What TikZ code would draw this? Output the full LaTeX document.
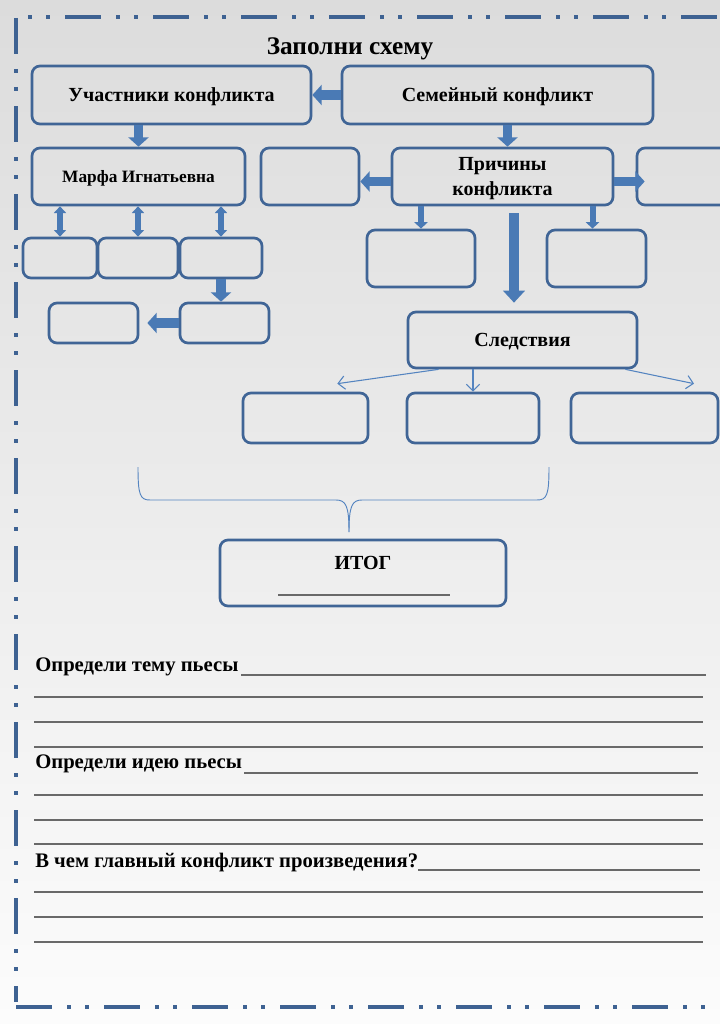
\documentclass[tikz,border=0pt]{standalone}
\usepackage{fontspec}
\setmainfont{Liberation Serif}
\usetikzlibrary{arrows.meta,calc}
\definecolor{frameblue}{RGB}{62,98,146}
\definecolor{boxblue}{RGB}{64,101,150}
\definecolor{arrowblue}{RGB}{74,122,181}
\definecolor{thinblue}{RGB}{84,132,192}
\definecolor{linegray}{RGB}{105,105,105}
\definecolor{bgtop}{RGB}{220,220,220}
\definecolor{bgbot}{RGB}{252,252,252}
\tikzset{
  frame/.style={draw=frameblue, line width=3pt,
    dash pattern=on 27pt off 11.25pt on 3pt off 10.5pt on 3pt off 11.25pt},
  box/.style={draw=boxblue, line width=2pt, rounded corners=6pt, align=center,
    inner sep=0pt, text depth=0pt, font=\bfseries\fontsize{15}{18.75}\selectfont},
  blockarrow/.style={draw=arrowblue, line width=7pt, -{Triangle[length=7pt,width=15pt]}},
  bigarrow/.style={draw=arrowblue, line width=7.5pt, -{Triangle[length=9pt,width=16pt]}},
  slimarrow/.style={draw=arrowblue, line width=4.5pt, -{Triangle[length=5pt,width=10pt]}},
  twinarrow/.style={draw=arrowblue, line width=4.5pt, {Triangle[length=5pt,width=9pt]}-{Triangle[length=5pt,width=9pt]}},
  thinarrow/.style={draw=thinblue, line width=0.8pt, -{Straight Barb[length=5pt,width=10pt]}},
  writeline/.style={draw=linegray, line width=1.1pt},
  qtxt/.style={anchor=west, inner sep=0pt, font=\bfseries\fontsize{15.5}{18}\selectfont}
}
\begin{document}
\begin{tikzpicture}[x=0.75pt,y=0.75pt,yscale=-1,xscale=1]
%Shape: Background
\shade[top color=bgtop, bottom color=bgbot] (0,0) rectangle (720,1024);
\useasboundingbox (0,0) rectangle (720,1024);

%Straight Lines: page frame
\draw[frame, dash phase=38.25pt] (28,17) -- (720,17);
\draw[frame] (15.5,18) -- (15.5,1002);
\draw[frame] (16,1007) -- (720,1007);

% Text Node
\node[font=\bfseries\fontsize{19}{22}\selectfont] (title) at (350,49) {Заполни схему};

%Shape: Rounded Rect
\node[box, minimum width=209.25pt, minimum height=43.5pt] (part) at (171.5,95) {Участники конфликта};
\node[box, minimum width=233.25pt, minimum height=43.5pt] (fam) at (497.5,95) {Семейный конфликт};
\node[box, minimum width=159.75pt, minimum height=42.75pt, font=\bfseries\fontsize{13}{15}\selectfont] (marfa) at (138.5,176.5) {Марфа Игнатьевна};
\node[box, minimum width=73.5pt, minimum height=42.75pt] (cl) at (310,176.5) {};
\node[box, minimum width=165.75pt, minimum height=42.75pt] (caus) at (502.5,176.5) {Причины\\конфликта};
\node[box, minimum width=77.25pt, minimum height=42.75pt] (cr) at (688.5,176.5) {};
\node[box, minimum width=81pt, minimum height=42.75pt] (cd1) at (421,258.5) {};
\node[box, minimum width=74.25pt, minimum height=42.75pt] (cd2) at (596.5,258.5) {};

\node[box, minimum width=55.5pt, minimum height=30pt] (r1) at (60,258) {};
\node[box, minimum width=60pt, minimum height=30pt] (r2) at (138,258) {};
\node[box, minimum width=61.5pt, minimum height=30pt] (r3) at (221,258) {};
\node[box, minimum width=66.75pt, minimum height=30pt] (b1) at (93.5,323) {};
\node[box, minimum width=66.75pt, minimum height=30pt] (b2) at (224.5,323) {};

\node[box, minimum width=171.75pt, minimum height=42pt] (cons) at (522.5,340) {Следствия};
\node[box, minimum width=93.75pt, minimum height=37.5pt] (e1) at (305.5,418) {};
\node[box, minimum width=99pt, minimum height=37.5pt] (e2) at (473,418) {};
\node[box, minimum width=110.25pt, minimum height=37.5pt] (e3) at (644.5,418) {};

\node[box, minimum width=214.5pt, minimum height=49.5pt] (res) at (363,573) {};
% Text Node
\node[font=\bfseries\fontsize{15}{18}\selectfont] (restxt) at (363,563) {ИТОГ};
\draw[writeline] (278,595) -- (450,595);

%Block Arrows
\draw[blockarrow] (fam) -- (part);
\draw[blockarrow] (marfa.north |- part.south) -- (marfa.north);
\draw[blockarrow] ($(caus.north |- fam.south)+(5,0)$) -- ($(caus.north)+(5,0)$);
\draw[blockarrow] ($(caus.west)+(0,5)$) -- ($(cl.east)+(0,5)$);
\draw[blockarrow] ($(caus.east)+(0,5)$) -- ($(cr.west)+(9,5)$);
\draw[slimarrow] (cd1.north |- caus.south) -- (cd1.north);
\draw[slimarrow] ($(cd2.north |- caus.south)+(-4,0)$) -- ($(cd2.north)+(-4,0)$);
\draw[bigarrow] ($(caus.south)+(11.5,7)$) -- ($(caus.south |- cons.north)+(11.5,-8)$);
\foreach \r in {r1,r2,r3}
  \draw[twinarrow] (\r.north |- marfa.south) -- (\r.north);
\draw[blockarrow] (r3.south) -- (r3.south |- b2.north);
\draw[blockarrow] (b2.west) -- ($(b1.east)+(8,0)$);

%Thin Arrows
\draw[thinarrow] ($(cons.south west)+(32,0)$) -- ($(e1.north east)+(-32,-8)$);
\draw[thinarrow] (cons.south -| e2.north) -- (e2.north);
\draw[thinarrow] ($(cons.south east)+(-13,0)$) -- ($(e3.north)+(49.5,-8)$);

%Curve Lines: brace
\draw[thinblue, line width=0.7pt] (138,467) .. controls (138,495) and (140,500) .. (150,500) -- (336,500) .. controls (346,500) and (349,506) .. (349,532);
\draw[thinblue, line width=0.7pt] (549,467) .. controls (549,495) and (547,500) .. (537,500) -- (362,500) .. controls (352,500) and (349,506) .. (349,532);

% Text Node
\node[qtxt] (q1) at (35,667) {Определи тему пьесы};
\node[qtxt] (q2) at (35,764) {Определи идею пьесы};
\node[qtxt] (q3) at (35,863) {В чем главный конфликт произведения?};

%Straight Lines: answer lines
\draw[writeline] (241,675) -- (706,675);
\draw[writeline] (244,773) -- (698,773);
\draw[writeline] (418,870) -- (700,870);
\foreach \y in {697,722,747,795,820,844,892,917,942}
  \draw[writeline] (34,\y) -- (703,\y);

\end{tikzpicture}
\end{document}
